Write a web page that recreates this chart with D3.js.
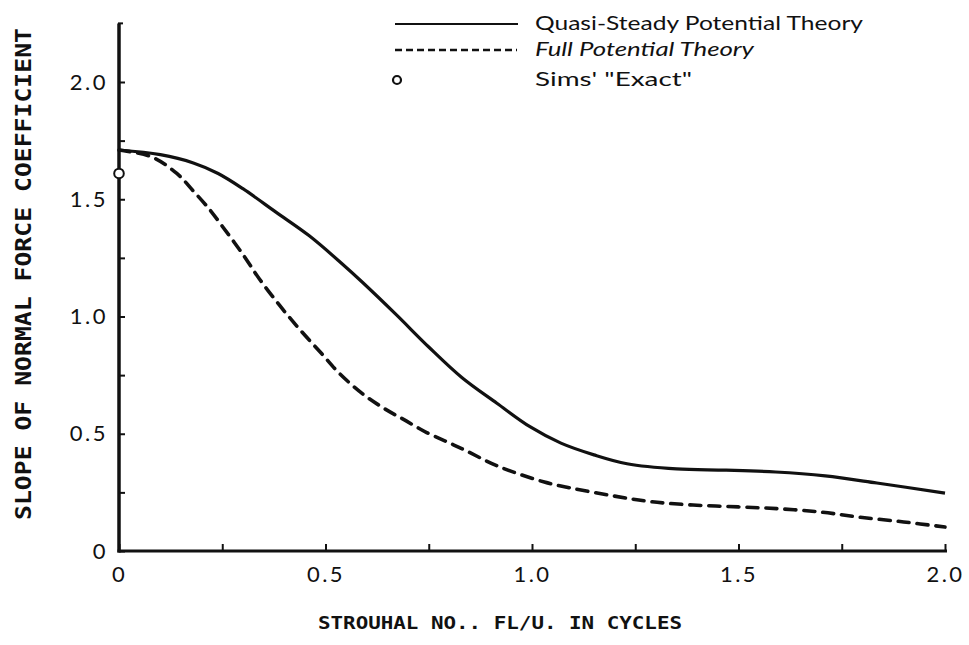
<!DOCTYPE html>
<html>
<head>
<meta charset="utf-8">
<script src="https://cdn.jsdelivr.net/npm/d3@7"></script>
<style>
  html, body { margin: 0; padding: 0; background: #fff; }
  svg { display: block; }
</style>
</head>
<body>
<svg id="chart" width="969" height="645"></svg>
<script>
// ---- data ----
const quasiX = [0, 0.10, 0.18, 0.24, 0.30, 0.38, 0.46, 0.54, 0.59, 0.67, 0.75, 0.83, 0.915, 0.995, 1.07, 1.15, 1.23, 1.35, 1.47, 1.59, 1.71, 1.835, 2.0];
const quasiY = [1.71, 1.69, 1.655, 1.61, 1.545, 1.445, 1.345, 1.225, 1.145, 1.01, 0.87, 0.74, 0.63, 0.53, 0.46, 0.41, 0.372, 0.35, 0.345, 0.337, 0.32, 0.29, 0.247];

const fullX = [0, 0.08, 0.14, 0.18, 0.22, 0.25, 0.30, 0.34, 0.39, 0.44, 0.49, 0.535, 0.59, 0.64, 0.69, 0.745, 0.795, 0.835, 0.92, 1.03, 1.09, 1.20, 1.29, 1.39, 1.50, 1.60, 1.70, 1.79, 1.90, 2.0];
const fullY = [1.71, 1.68, 1.61, 1.535, 1.455, 1.385, 1.265, 1.16, 1.045, 0.94, 0.843, 0.755, 0.67, 0.61, 0.56, 0.505, 0.465, 0.432, 0.36, 0.294, 0.27, 0.234, 0.21, 0.196, 0.188, 0.18, 0.166, 0.145, 0.124, 0.102];

const simsX = [0];
const simsY = [1.61];

const xTicks = [0, 0.25, 0.5, 0.75, 1.0, 1.25, 1.5, 1.75, 2.0];
const yTicks = [0, 0.25, 0.5, 0.75, 1.0, 1.25, 1.5, 1.75, 2.0];
const xTickLabels = ["0", "", "0.5", "", "1.0", "", "1.5", "", "2.0"];
const yTickLabels = ["0", "", "0.5", "", "1.0", "", "1.5", "", "2.0"];

const seriesNames = ["Quasi-Steady Potential Theory", "Full Potential Theory", "Sims' \"Exact\""];
const xTitle = "STROUHAL NO.. FL/U. IN CYCLES";
const yTitle = "SLOPE OF NORMAL FORCE COEFFICIENT";

// ---- drawing ----
const svg = d3.select("#chart");
const x = d3.scaleLinear().domain([0, 2]).range([119, 945]);
const y = d3.scaleLinear().domain([0, 2]).range([551, 82]);
const yTop = 2.25;

const ink = "#111";

// axes lines
svg.append("line")
  .attr("x1", x(0)).attr("x2", x(0))
  .attr("y1", y(0) + 1.5).attr("y2", y(yTop))
  .attr("stroke", ink).attr("stroke-width", 3.5);
svg.append("line")
  .attr("x1", x(0) + 4).attr("x2", x(0) - 1)
  .attr("y1", y(yTop)).attr("y2", y(yTop))
  .attr("stroke", ink).attr("stroke-width", 2);
svg.append("line")
  .attr("x1", x(0) - 1.5).attr("x2", x(2) + 2)
  .attr("y1", y(0)).attr("y2", y(0))
  .attr("stroke", ink).attr("stroke-width", 3);

// y axis ticks (inward)
const yAxis = d3.axisLeft(y)
  .tickValues(yTicks)
  .tickSize(-6)
  .tickPadding(11)
  .tickFormat((d, i) => yTickLabels[i]);
const gy = svg.append("g").attr("transform", `translate(${x(0)},0)`).call(yAxis);
gy.select(".domain").remove();
gy.selectAll(".tick line").attr("stroke", ink).attr("stroke-width", 2);
gy.selectAll(".tick text")
  .attr("font-family", "Lato, 'Liberation Sans', sans-serif")
  .attr("font-size", 22)
  .attr("letter-spacing", 2.5)
  .attr("fill", ink);

// x axis ticks (inward)
const xAxis = d3.axisBottom(x)
  .tickValues(xTicks)
  .tickSize(-7)
  .tickPadding(15)
  .tickFormat((d, i) => xTickLabels[i]);
const gx = svg.append("g").attr("transform", `translate(0,${y(0)})`).call(xAxis);
gx.select(".domain").remove();
gx.selectAll(".tick line").attr("stroke", ink).attr("stroke-width", 2);
gx.selectAll(".tick text")
  .attr("font-family", "Lato, 'Liberation Sans', sans-serif")
  .attr("font-size", 22)
  .attr("letter-spacing", 2.5)
  .attr("fill", ink);

// curves
const line = d3.line().x(d => x(d[0])).y(d => y(d[1])).curve(d3.curveCatmullRom.alpha(0.5));
const quasi = quasiX.map((v, i) => [v, quasiY[i]]);
const full = fullX.map((v, i) => [v, fullY[i]]);

svg.append("path").datum(quasi)
  .attr("d", line)
  .attr("fill", "none").attr("stroke", ink).attr("stroke-width", 3.2)
  .attr("stroke-linejoin", "round");

svg.append("path").datum(full)
  .attr("d", line)
  .attr("fill", "none").attr("stroke", ink).attr("stroke-width", 3.6)
  .attr("stroke-dasharray", "11,8")
  .attr("stroke-linecap", "round");

// Sims' point
svg.selectAll("circle.sims").data(simsX.map((v, i) => [v, simsY[i]]))
  .enter().append("circle")
  .attr("class", "sims")
  .attr("cx", d => x(d[0])).attr("cy", d => y(d[1]))
  .attr("r", 4.8)
  .attr("fill", "#fff").attr("stroke", ink).attr("stroke-width", 2);

// legend
const legY = [24, 50, 80];
const lg = svg.append("g");
lg.append("line").attr("x1", 395).attr("x2", 518).attr("y1", legY[0]).attr("y2", legY[0])
  .attr("stroke", ink).attr("stroke-width", 2.2);
lg.append("line").attr("x1", 395).attr("x2", 517).attr("y1", legY[1]).attr("y2", legY[1])
  .attr("stroke", ink).attr("stroke-width", 2.4).attr("stroke-dasharray", "7,4");
lg.append("circle").attr("cx", 397).attr("cy", legY[2]).attr("r", 4)
  .attr("fill", "#fff").attr("stroke", ink).attr("stroke-width", 2.2);
const legWidths = [328, 219, 157];
seriesNames.forEach((name, i) => {
  lg.append("text")
    .attr("x", 535).attr("y", legY[i] - 1)
    .attr("dy", "0.35em")
    .attr("font-family", "Lato, 'Noto Sans', sans-serif")
    .attr("font-size", 20)
    .attr("font-style", i === 1 ? "italic" : "normal")
    .attr("textLength", legWidths[i])
    .attr("lengthAdjust", "spacingAndGlyphs")
    .attr("fill", ink)
    .text(name);
});

// axis titles
svg.append("text")
  .attr("x", 500).attr("y", 623).attr("dy", "0.35em")
  .attr("text-anchor", "middle")
  .attr("font-family", "'DejaVu Sans Mono', monospace")
  .attr("font-weight", "bold")
  .attr("font-size", 17)
  .attr("textLength", 364)
  .attr("lengthAdjust", "spacingAndGlyphs")
  .attr("fill", ink)
  .text(xTitle);

svg.append("text")
  .attr("transform", "translate(24,274) rotate(-90)")
  .attr("dy", "0.35em")
  .attr("text-anchor", "middle")
  .attr("font-family", "'DejaVu Sans Mono', monospace")
  .attr("font-weight", "bold")
  .attr("font-size", 21)
  .attr("textLength", 492)
  .attr("lengthAdjust", "spacingAndGlyphs")
  .attr("fill", ink)
  .text(yTitle);
</script>
</body>
</html>
